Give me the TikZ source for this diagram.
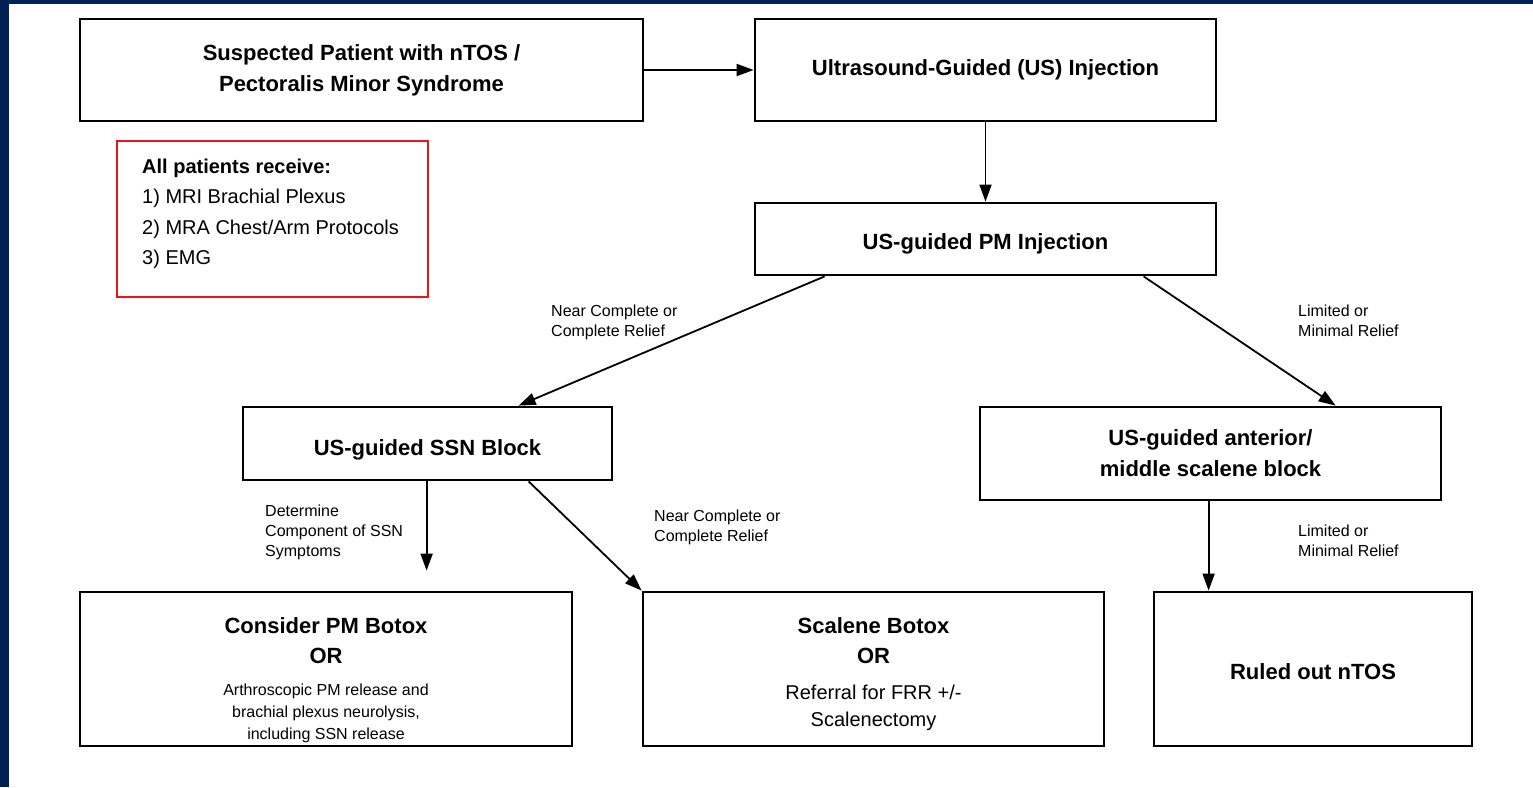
\documentclass[tikz,border=0pt]{standalone}
\usepackage{fontspec}
\setmainfont{Liberation Sans}
\usetikzlibrary{arrows.meta}
\definecolor{navy}{RGB}{1,33,84}
\definecolor{redline}{RGB}{238,20,20}
\newcommand\smallline{\normalfont\fontsize{16}{22}\selectfont}
\newcommand\midline{\normalfont\fontsize{20}{25}\selectfont}
\begin{document}
\begin{tikzpicture}[x=1pt,y=-1pt,
  box/.style={draw=black, line width=2.8pt, fill=white, align=center, inner sep=0pt,
    font=\fontsize{22}{31}\selectfont\bfseries},
  redbox/.style={draw=redline, line width=1.6pt, inner sep=0pt},
  arr/.style={line width=1.8pt, -{Triangle[length=17pt,width=12pt]}},
  lab/.style={align=left, anchor=north west, inner sep=0pt, font=\fontsize{16}{20}\selectfont},
]
\path[use as bounding box] (0,0) rectangle (1533,787);
\fill[navy] (0,0) rectangle (8.5,787);
\fill[navy] (0,0) rectangle (1533,4);

\node[box, minimum width=563pt, minimum height=102pt] (a) at (361.5,70)
  {Suspected Patient with nTOS /\\Pectoralis Minor Syndrome};
\node[box, minimum width=461pt, minimum height=102pt] (b) at (985.5,70)
  {Ultrasound-Guided (US) Injection};
\node[box, minimum width=461pt, minimum height=72pt] (c) at (985.5,239)
  {\rule{0pt}{26pt}US-guided PM Injection};
\node[box, minimum width=369pt, minimum height=73pt] (d) at (427.5,443.5)
  {\rule{0pt}{28pt}US-guided SSN Block};
\node[box, minimum width=461pt, minimum height=93pt] (e) at (1210.5,453.5)
  {US-guided anterior/\\middle scalene block};
\node[box, minimum width=492pt, minimum height=154pt, font=\fontsize{22}{30}\selectfont\bfseries] (f) at (326,669)
  {\rule{0pt}{38pt}Consider PM Botox\\OR\\[2pt]\smallline Arthroscopic PM release and\\[-8pt]\smallline brachial plexus neurolysis,\\[-8pt]\smallline including SSN release};
\node[box, minimum width=461pt, minimum height=154pt, font=\fontsize{22}{30}\selectfont\bfseries] (g) at (873.5,669)
  {\rule{0pt}{27pt}Scalene Botox\\OR\\[6pt]\midline Referral for FRR +/-\\[-3pt]\midline Scalenectomy};
\node[box, minimum width=318pt, minimum height=154pt] (h) at (1313,669)
  {\rule{0pt}{22pt}Ruled out nTOS};

\node[redbox, minimum width=311pt, minimum height=156pt] (notes) at (272.5,219) {};
\node[align=left, anchor=north west, inner sep=0pt, font=\fontsize{20}{30.3}\selectfont] (notestext) at (142,159)
  {\textbf{All patients receive:}\\1) MRI Brachial Plexus\\2) MRA Chest/Arm Protocols\\3) EMG};

\draw[arr] (a.east) -- (b.west);
\draw[arr] (b.south) -- (c.north);
\draw[arr] ([xshift=71pt]c.south west) -- ([xshift=277pt]d.north west);
\draw[arr] ([xshift=390pt]c.south west) -- ([xshift=357pt]e.north west);
\draw[arr] ([xshift=185pt]d.south west) -- ([xshift=348pt,yshift=20pt]f.north west);
\draw[arr] ([xshift=287pt]d.south west) -- (g.north west);
\draw[arr] ([xshift=230pt]e.south west) -- ([xshift=56pt]h.north west);

\node[lab] (l1) at (551,305) {Near Complete or\\Complete Relief};
\node[lab] (l2) at (1298,305) {Limited or\\Minimal Relief};
\node[lab] (l3) at (265,505) {Determine\\Component of SSN\\Symptoms};
\node[lab] (l4) at (654,510) {Near Complete or\\Complete Relief};
\node[lab] (l5) at (1298,525) {Limited or\\Minimal Relief};
\end{tikzpicture}
\end{document}
